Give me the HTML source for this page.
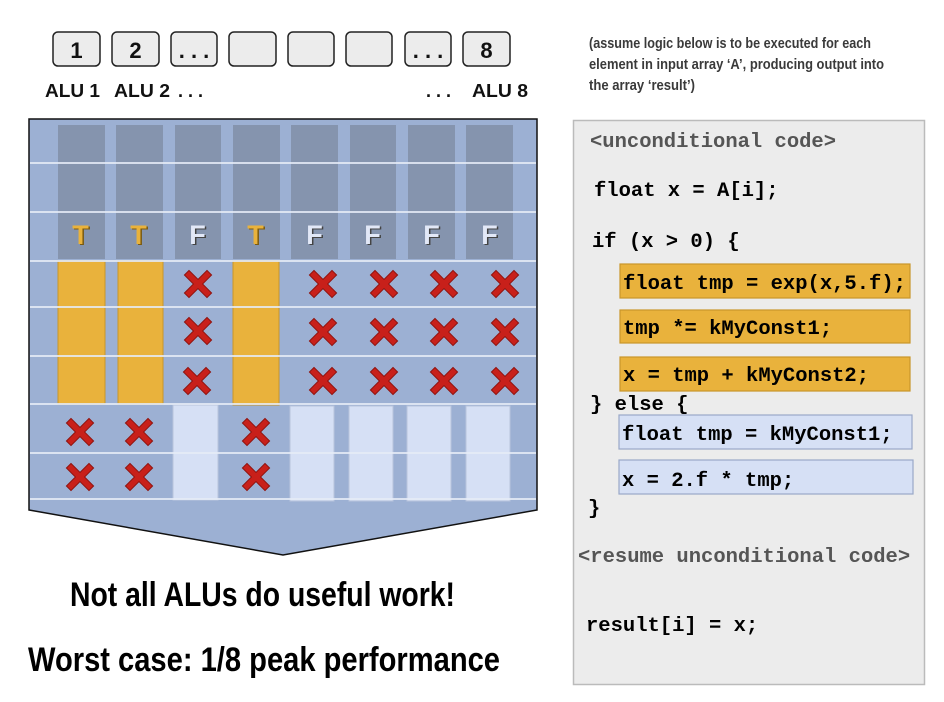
<!DOCTYPE html>
<html><head><meta charset="utf-8"><style>
body{margin:0;background:#fff;width:944px;height:702px;overflow:hidden}
svg{display:block}
.m{font-family:"Liberation Mono",monospace;font-weight:bold;font-size:20.5px}
</style></head><body>
<svg width="944" height="702" viewBox="0 0 944 702" xmlns="http://www.w3.org/2000/svg">
<defs>
<g id="x"><path d="M-9,-9 L9,9 M9,-9 L-9,9" stroke="#8e1410" stroke-width="7.5" stroke-linecap="square"/><path d="M-9,-9 L9,9 M9,-9 L-9,9" stroke="#c8201a" stroke-width="5.5" stroke-linecap="square"/></g>
</defs>
<g fill="#ececec" stroke="#222" stroke-width="1.5">
<rect x="53" y="32" width="47" height="34" rx="5"/><rect x="112" y="32" width="47" height="34" rx="5"/>
<rect x="171" y="32" width="46" height="34" rx="5"/><rect x="229" y="32" width="47" height="34" rx="5"/>
<rect x="288" y="32" width="46" height="34" rx="5"/><rect x="346" y="32" width="46" height="34" rx="5"/>
<rect x="405" y="32" width="46" height="34" rx="5"/><rect x="463" y="32" width="47" height="34" rx="5"/>
</g>
<g font-family="Liberation Sans,sans-serif" font-weight="bold" font-size="22" text-anchor="middle" fill="#111">
<text x="76.5" y="58">1</text><text x="135.5" y="58">2</text><text x="194" y="58">. . .</text><text x="428" y="58">. . .</text><text x="486.5" y="58">8</text>
</g>
<g font-family="Liberation Sans,sans-serif" font-weight="bold" font-size="18" fill="#111">
<text x="45" y="97" textLength="55" lengthAdjust="spacingAndGlyphs">ALU 1</text>
<text x="114" y="97" textLength="56" lengthAdjust="spacingAndGlyphs">ALU 2</text>
<text x="178" y="97">. . .</text>
<text x="426" y="97">. . .</text>
<text x="472" y="97" textLength="56" lengthAdjust="spacingAndGlyphs">ALU 8</text>
</g>
<path d="M29,119 L537,119 L537,510 L283,555 L29,510 Z" fill="#9cb0d3" stroke="#111" stroke-width="1.5"/>
<g fill="#8594ae">
<rect x="58" y="125" width="47" height="134"/><rect x="116" y="125" width="47" height="134"/>
<rect x="175" y="125" width="46" height="134"/><rect x="233" y="125" width="47" height="134"/>
<rect x="291" y="125" width="47" height="134"/><rect x="350" y="125" width="46" height="134"/>
<rect x="408" y="125" width="47" height="134"/><rect x="466" y="125" width="47" height="134"/>
</g>
<g fill="#e9b23c" stroke="#c9962a" stroke-width="1">
<rect x="58" y="261" width="47" height="143"/><rect x="118" y="261" width="45" height="143"/><rect x="233" y="261" width="46" height="144"/>
</g>
<g fill="#d6e0f5" stroke="#b8c4dc" stroke-width="1">
<rect x="173" y="405" width="45" height="95"/><rect x="290" y="406" width="44" height="95"/>
<rect x="349" y="406" width="44" height="95"/><rect x="407" y="406" width="44" height="95"/><rect x="466" y="406" width="44" height="95"/>
</g>
<g stroke="#e6ecf7" stroke-width="2" opacity="0.85">
<line x1="30" y1="163" x2="536" y2="163"/><line x1="30" y1="212" x2="536" y2="212"/><line x1="30" y1="261" x2="536" y2="261"/>
<line x1="30" y1="307" x2="536" y2="307"/><line x1="30" y1="356" x2="536" y2="356"/><line x1="30" y1="404" x2="536" y2="404"/>
<line x1="30" y1="453" x2="536" y2="453"/><line x1="30" y1="499" x2="536" y2="499"/>
</g>
<g font-family="Liberation Sans,sans-serif" font-weight="bold" font-size="27" text-anchor="middle">
<text x="82" y="245" fill="#7a5a10">T</text><text x="140" y="245" fill="#7a5a10">T</text><text x="257" y="245" fill="#7a5a10">T</text>
<text x="80.5" y="244" fill="#e9b23c">T</text><text x="138.5" y="244" fill="#e9b23c">T</text><text x="255.5" y="244" fill="#e9b23c">T</text>
<g fill="#444"><text x="199" y="245">F</text><text x="316" y="245">F</text><text x="374" y="245">F</text><text x="433" y="245">F</text><text x="491" y="245">F</text></g>
<g fill="#e2e8f7"><text x="197.5" y="244">F</text><text x="314.5" y="244">F</text><text x="372.5" y="244">F</text><text x="431.5" y="244">F</text><text x="489.5" y="244">F</text></g>
</g>
<g>
<use href="#x" x="198" y="284"/><use href="#x" x="198" y="331"/><use href="#x" x="197" y="381"/>
<use href="#x" x="323" y="284"/><use href="#x" x="384" y="284"/><use href="#x" x="444" y="284"/><use href="#x" x="505" y="284"/>
<use href="#x" x="323" y="332"/><use href="#x" x="384" y="332"/><use href="#x" x="444" y="332"/><use href="#x" x="505" y="332"/>
<use href="#x" x="323" y="381"/><use href="#x" x="384" y="381"/><use href="#x" x="444" y="381"/><use href="#x" x="505" y="381"/>
<use href="#x" x="80" y="432"/><use href="#x" x="139" y="432"/><use href="#x" x="256" y="432"/>
<use href="#x" x="80" y="477"/><use href="#x" x="139" y="477"/><use href="#x" x="256" y="477"/>
</g>
<g font-family="Liberation Sans,sans-serif" font-weight="bold" fill="#000">
<text x="70" y="606" font-size="34" textLength="385" lengthAdjust="spacingAndGlyphs">Not all ALUs do useful work!</text>
<text x="28" y="671" font-size="34" textLength="472" lengthAdjust="spacingAndGlyphs">Worst case: 1/8 peak performance</text>
</g>
<g font-family="Liberation Sans,sans-serif" font-weight="bold" font-size="15" fill="#3a3a3a">
<text x="589" y="48" textLength="282" lengthAdjust="spacingAndGlyphs">(assume logic below is to be executed for each</text>
<text x="589" y="69" textLength="295" lengthAdjust="spacingAndGlyphs">element in input array ‘A’, producing output into</text>
<text x="589" y="90" textLength="106" lengthAdjust="spacingAndGlyphs">the array ‘result’)</text>
</g>
<rect x="573.5" y="120.5" width="351" height="564" fill="#ececec" stroke="#bbb" stroke-width="1.5"/>
<g fill="#e9b23c" stroke="#c9962a" stroke-width="1.2">
<rect x="620" y="264" width="290" height="34"/><rect x="620" y="310" width="290" height="33"/><rect x="620" y="357" width="290" height="34"/>
</g>
<g fill="#d6e0f5" stroke="#99a8c8" stroke-width="1.2">
<rect x="619" y="415" width="293" height="34"/><rect x="619" y="460" width="294" height="34"/>
</g>
<g class="m" fill="#000">
<text x="590" y="147" fill="#555">&lt;unconditional code&gt;</text>
<text x="594" y="196">float x = A[i];</text>
<text x="592" y="247">if (x &gt; 0) {</text>
<text x="623" y="289">float tmp = exp(x,5.f);</text>
<text x="623" y="334">tmp *= kMyConst1;</text>
<text x="623" y="381">x = tmp + kMyConst2;</text>
<text x="590" y="410">} else {</text>
<text x="622" y="440">float tmp = kMyConst1;</text>
<text x="622" y="486">x = 2.f * tmp;</text>
<text x="588" y="514">}</text>
<text x="578" y="562" fill="#555">&lt;resume unconditional code&gt;</text>
<text x="586" y="631">result[i] = x;</text>
</g>
</svg>
</body></html>
